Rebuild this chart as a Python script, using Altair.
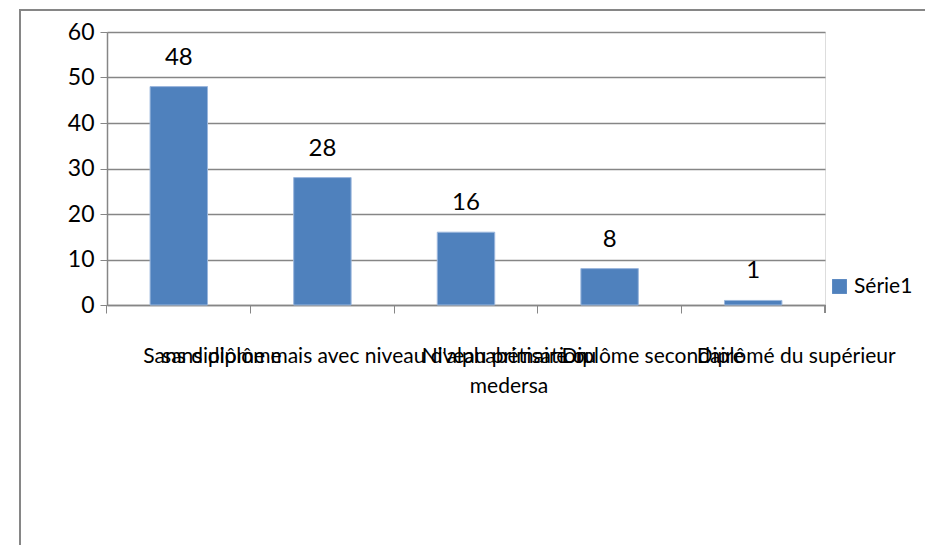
import altair as alt
import pandas as pd

categories = [
    "sans diplôme",
    "Sans diplôme mais avec niveau d'alphabétisation",
    "Niveau primaire ou\nmedersa",
    "Diplôme secondaire",
    "Diplômé du supérieur",
]
values = [48, 28, 16, 8, 1]
series_name = "Série1"

df = pd.DataFrame({"cat": categories, "val": values, "series": series_name})

FONT = "Lato, Roboto, sans-serif"
W, H = 718, 273
GRAY = "#868686"

base = alt.Chart(df)

bars = base.mark_bar(color="#4F81BD", stroke="#9BB7DD", strokeWidth=1).encode(
    x=alt.X(
        "cat:N",
        sort=None,
        title=None,
        scale=alt.Scale(paddingInner=0.6, paddingOuter=0.3),
        axis=alt.Axis(
            labelAngle=0,
            labelFont=FONT,
            labelFontSize=21,
            labelColor="#000000",
            labelLimit=2000,
            labelOverlap=False,
            labelExpr="split(datum.label, '\\n')",
            labelLineHeight=30,
            labelPadding=32,
            bandPosition=-0.75,
            labelOffset=43,
            tickSize=8,
            tickColor=GRAY,
            domainColor=GRAY,
            domainWidth=1.5,
            grid=False,
        ),
    ),
    y=alt.Y(
        "val:Q",
        title=None,
        scale=alt.Scale(domain=[0, 60]),
        axis=alt.Axis(
            values=[0, 10, 20, 30, 40, 50, 60],
            labelFont=FONT,
            labelFontSize=23,
            labelColor="#000000",
            labelPadding=6,
            tickSize=7,
            tickColor=GRAY,
            domainColor=GRAY,
            domainWidth=1.5,
            gridColor=GRAY,
            gridWidth=1.5,
        ),
    ),
    color=alt.Color(
        "series:N",
        scale=alt.Scale(range=["#4F81BD"]),
        legend=alt.Legend(
            title=None,
            orient="none",
            legendX=722,
            legendY=244,
            symbolType="square",
            symbolSize=220,
            symbolStrokeWidth=0,
            labelFont=FONT,
            labelFontSize=21,
            labelColor="#000000",
        ),
    ),
)

text = base.mark_text(
    font=FONT, fontSize=24, color="#000000", baseline="alphabetic", dy=-22
).encode(x=alt.X("cat:N", sort=None), y="val:Q", text="val:Q")

last_tick = alt.Chart(df).mark_rule(color=GRAY).encode(
    x=alt.value(W), y=alt.value(H), y2=alt.value(H + 8)
)

frame = alt.Chart(df).mark_rect(fill=None, stroke=GRAY, strokeWidth=1.5).encode(
    x=alt.value(-87), x2=alt.value(828), y=alt.value(-22), y2=alt.value(518)
)

chart = (
    alt.layer(frame, bars, text, last_tick)
    .properties(
        width=W,
        height=H,
        autosize=alt.AutoSizeParams(type="none"),
        padding={"left": 99, "top": 24, "right": 100, "bottom": 240},
    )
    .configure_view(stroke=None)
    .configure(background="white")
)

chart.save("out.html", embed_options={"renderer": "svg", "actions": False})
